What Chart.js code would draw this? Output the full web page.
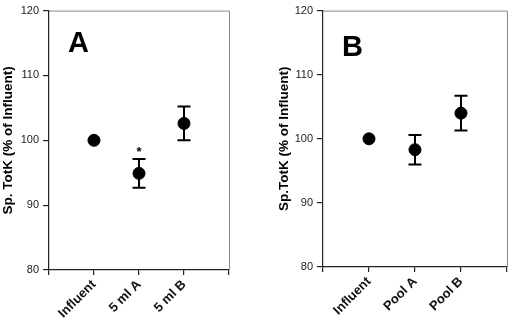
<!DOCTYPE html>
<html><head><meta charset="utf-8">
<script src="https://cdn.jsdelivr.net/npm/chart.js@4"></script>
<style>
body{margin:0;background:#fff;}
#wrap{position:relative;width:520px;height:320px;}
canvas{position:absolute;top:0;}
</style></head>
<body><div id="wrap">
<canvas id="cA" width="260" height="320" style="left:0"></canvas>
<canvas id="cB" width="260" height="320" style="left:260px"></canvas>
</div>
<script>
const catsA = ['Influent', '5 ml A', '5 ml B'];
const meanA = [100, 94.9, 102.6];
const errA  = [0, 2.2, 2.6];
const catsB = ['Influent', 'Pool A', 'Pool B'];
const meanB = [100, 98.3, 104.0];
const errB  = [0, 2.3, 2.7];
const yTicks = [80, 90, 100, 110, 120];
const starA = [false, true, false];

const FONT = "'Liberation Sans', Arial, sans-serif";

function makeChart(id, cats, means, errs, stars, letter, yTitle, cfg) {
  const pts = means.map((m, i) => ({x: i + 1, y: m}));
  const errPlugin = {
    id: 'err' + id,
    afterDatasetsDraw(chart) {
      const ctx = chart.ctx, xs = chart.scales.x, ys = chart.scales.y, a = chart.chartArea;
      ctx.save();
      ctx.strokeStyle = '#8a8a8a'; ctx.lineWidth = 1;
      ctx.beginPath();
      ctx.moveTo(a.left, a.top + 0.5); ctx.lineTo(a.right + 0.5, a.top + 0.5); ctx.lineTo(a.right + 0.5, a.bottom);
      ctx.stroke();
      ctx.strokeStyle = '#000'; ctx.lineWidth = 2;
      means.forEach((m, i) => {
        if (!errs[i]) return;
        const x = xs.getPixelForValue(i + 1);
        const yt = ys.getPixelForValue(m + errs[i]);
        const yb = ys.getPixelForValue(m - errs[i]);
        ctx.beginPath();
        ctx.moveTo(x, yt); ctx.lineTo(x, yb);
        ctx.moveTo(x - 6.5, yt); ctx.lineTo(x + 6.5, yt);
        ctx.moveTo(x - 6.5, yb); ctx.lineTo(x + 6.5, yb);
        ctx.stroke();
        if (stars[i]) {
          ctx.fillStyle = '#000';
          ctx.font = 'bold 13px ' + FONT;
          ctx.textAlign = 'center'; ctx.textBaseline = 'alphabetic';
          ctx.fillText('*', x, yt - 3);
        }
      });
      ctx.fillStyle = '#000';
      ctx.font = 'bold 29px ' + FONT;
      ctx.textAlign = 'left'; ctx.textBaseline = 'alphabetic';
      ctx.fillText(letter, a.left + cfg.letterDx, a.top + cfg.letterDy);
      ctx.restore();
    }
  };
  return new Chart(document.getElementById(id), {
    type: 'scatter',
    data: {datasets: [{data: pts, backgroundColor: '#000', borderColor: '#000', pointRadius: 6, pointHoverRadius: 6}]},
    options: {
      responsive: false, animation: false,
      layout: {padding: {left: cfg.padLeft, right: cfg.padRight, top: cfg.padTop, bottom: 0}},
      plugins: {legend: {display: false}, tooltip: {enabled: false}},
      scales: {
        x: {
          type: 'linear', min: 0, max: 4,
          afterBuildTicks(s) { s.ticks = [0, 1, 2, 3, 4].map(v => ({value: v})); },
          afterFit(s) { s.height = cfg.xHeight; },
          grid: {drawOnChartArea: false, drawTicks: true, tickLength: 5, color: '#222', lineWidth: 1.2},
          border: {display: true, color: '#222', width: 1.2},
          ticks: {
            autoSkip: false, minRotation: 45, maxRotation: 45, padding: 2,
            color: '#111', font: {family: FONT, size: 13, weight: 'bold'},
            callback: v => cats[v - 1] || ''
          }
        },
        y: {
          type: 'linear', min: 80, max: 120,
          afterBuildTicks(s) { s.ticks = yTicks.map(v => ({value: v})); },
          afterFit(s) { s.width = cfg.yWidth; },
          grid: {drawOnChartArea: false, drawTicks: true, tickLength: 6, color: '#222', lineWidth: 1.2},
          border: {display: true, color: '#222', width: 1.2},
          ticks: {padding: 4, color: '#222', font: {family: FONT, size: 11}},
          title: {display: true, text: yTitle, color: '#000', font: {family: FONT, size: 13.5, weight: 'bold'}, padding: {top: 0, bottom: 4}}
        }
      }
    },
    plugins: [errPlugin]
  });
}

makeChart('cA', catsA, meanA, errA, starA, 'A', 'Sp. TotK (% of Influent)',
  {padLeft: 0, padRight: 31, padTop: 8, xHeight: 50, yWidth: 49, letterDx: 19, letterDy: 41});
makeChart('cB', catsB, meanB, errB, [false, false, false], 'B', 'Sp.TotK (% of Influent)',
  {padLeft: 16, padRight: 3, padTop: 5, xHeight: 53, yWidth: 47, letterDx: 19, letterDy: 45});
</script>
</body></html>
